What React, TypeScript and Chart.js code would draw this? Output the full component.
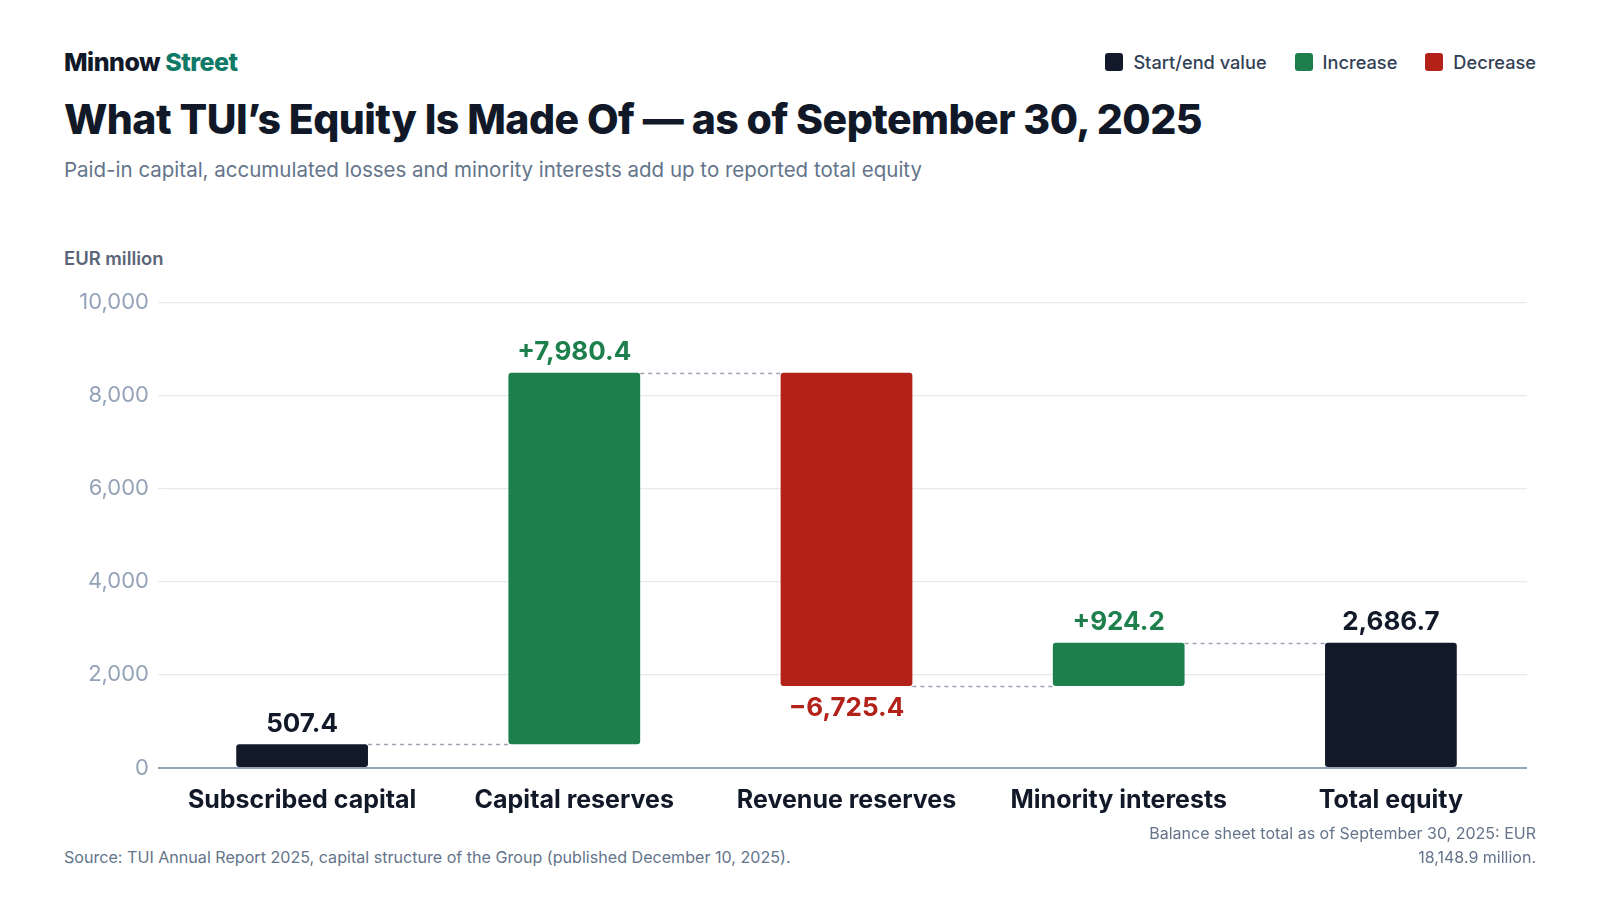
import { Chart, registerables } from "chart.js";
import { useEffect, useRef } from "react";

Chart.register(...registerables);

// data
const categories = ["Subscribed capital", "Capital reserves", "Revenue reserves", "Minority interests", "Total equity"];
const changes = [507.4, 7980.4, -6725.4, 924.2, 2686.7];
const kinds = ["total", "increase", "decrease", "increase", "total"];
const valueLabels = ["507.4", "+7,980.4", "\u22126,725.4", "+924.2", "2,686.7"];
const yTicks = [0, 2000, 4000, 6000, 8000, 10000];

const DARK = "#121a2a";
const GREEN = "#1c7f4c";
const RED = "#b22219";
const AXIS = "#94a3b8";
const FONT = "Inter, 'Noto Sans', sans-serif";

const colorFor = (k: string) => (k === "increase" ? GREEN : k === "decrease" ? RED : DARK);

// floating ranges from running total
const buildRanges = () => {
  let running = 0;
  return changes.map((v, i) => {
    if (kinds[i] === "total") {
      running = v;
      return [0, v];
    }
    const start = running;
    running += v;
    return [start, running];
  });
};

const waterfallPlugin = {
  id: "waterfallExtras",
  afterDatasetsDraw(chart: any) {
    const { ctx } = chart;
    const meta = chart.getDatasetMeta(0);
    const yScale = chart.scales.y;
    const ranges = chart.data.datasets[0].data as number[][];
    ctx.save();
    // connectors
    ctx.strokeStyle = "#9ca3b4";
    ctx.lineWidth = 1.5;
    ctx.setLineDash([4, 4]);
    for (let i = 0; i < ranges.length - 1; i++) {
      const bar = meta.data[i];
      const next = meta.data[i + 1];
      const y = Math.round(yScale.getPixelForValue(ranges[i][1])) + 0.5;
      ctx.beginPath();
      ctx.moveTo(bar.x + bar.width / 2, y);
      ctx.lineTo(next.x - next.width / 2, y);
      ctx.stroke();
    }
    ctx.setLineDash([]);
    // value labels
    ctx.font = `700 26px ${FONT}`;
    ctx.textAlign = "center";
    meta.data.forEach((bar: any, i: number) => {
      const [a, b] = ranges[i];
      ctx.fillStyle = colorFor(kinds[i]);
      if (kinds[i] === "decrease") {
        ctx.textBaseline = "top";
        ctx.fillText(valueLabels[i], bar.x, yScale.getPixelForValue(Math.min(a, b)) + 9);
      } else {
        ctx.textBaseline = "bottom";
        ctx.fillText(valueLabels[i], bar.x, yScale.getPixelForValue(Math.max(a, b)) - 7.5);
      }
    });
    ctx.restore();
  },
};

const WaterfallChart = () => {
  const canvasRef = useRef<HTMLCanvasElement>(null);

  useEffect(() => {
    if (!canvasRef.current) return;
    const chart = new Chart(canvasRef.current, {
      type: "bar",
      data: {
        labels: categories,
        datasets: [
          {
            data: buildRanges() as any,
            backgroundColor: kinds.map(colorFor),
            borderRadius: 3,
            borderSkipped: false,
            barPercentage: 0.484,
            categoryPercentage: 1,
          },
        ],
      },
      options: {
        animation: false,
        responsive: true,
        maintainAspectRatio: false,
        layout: { padding: 0 },
        plugins: { legend: { display: false }, tooltip: { enabled: false } },
        scales: {
          x: {
            grid: { display: false },
            border: { color: AXIS, width: 2 },
            ticks: {
              color: "#111827",
              font: { family: FONT, size: 25, weight: 700 },
              padding: 9,
              maxRotation: 0,
            },
            afterFit: (s: any) => {
              s.height = 60;
            },
          },
          y: {
            min: 0,
            max: 10000,
            afterBuildTicks: (s: any) => {
              s.ticks = yTicks.map((v) => ({ value: v }));
            },
            grid: {
              color: (c: any) => (c.tick && c.tick.value === 0 ? AXIS : "#e8eaee"),
              lineWidth: (c: any) => (c.tick && c.tick.value === 0 ? 2 : 1.2),
              drawTicks: true,
              tickLength: 8,
            },
            border: { display: false },
            ticks: {
              color: AXIS,
              font: { family: FONT, size: 22 },
              padding: 9,
              callback: (v: any) => Number(v).toLocaleString("en-US"),
            },
            afterFit: (s: any) => {
              s.width = 102;
            },
          },
        },
      },
      plugins: [waterfallPlugin],
    });
    return () => chart.destroy();
  }, []);

  return (
    <div style={{ position: "absolute", left: 64, top: 280, width: 1463, height: 548 }}>
      <canvas ref={canvasRef}></canvas>
    </div>
  );
};

const legendItems = [
  { label: "Start/end value", color: DARK },
  { label: "Increase", color: GREEN },
  { label: "Decrease", color: RED },
];

export default function App() {
  useEffect(() => {
    document.body.style.margin = "0";
  }, []);
  return (
    <div
      style={{
        position: "relative",
        width: 1600,
        height: 900,
        background: "#ffffff",
        fontFamily: FONT,
        overflow: "hidden",
      }}
    >
      <div style={{ position: "absolute", left: 64, top: 47, fontSize: 25, fontWeight: 800, color: "#111827", letterSpacing: -0.5 }}>
        Minnow <span style={{ color: "#0f7a68" }}>Street</span>
      </div>
      <div style={{ position: "absolute", right: 64, top: 51, display: "flex", gap: 28, alignItems: "center" }}>
        {legendItems.map((it) => (
          <div key={it.label} style={{ display: "flex", alignItems: "center", gap: 10 }}>
            <span style={{ width: 18, height: 18, borderRadius: 3, background: it.color, display: "inline-block" }} />
            <span style={{ fontSize: 18.2, fontWeight: 500, color: "#334155" }}>{it.label}</span>
          </div>
        ))}
      </div>
      <div style={{ position: "absolute", left: 64, top: 94, fontSize: 41, fontWeight: 800, color: "#111827", letterSpacing: -0.55, whiteSpace: "nowrap" }}>
        What TUI’s Equity Is Made Of — as of September 30, 2025
      </div>
      <div style={{ position: "absolute", left: 64, top: 157, fontSize: 20.5, color: "#64748b" }}>
        Paid-in capital, accumulated losses and minority interests add up to reported total equity
      </div>
      <div style={{ position: "absolute", left: 64, top: 247, fontSize: 18.4, fontWeight: 600, color: "#5b6579" }}>
        EUR million
      </div>
      <WaterfallChart />
      <div style={{ position: "absolute", left: 64, top: 847, fontSize: 16.1, color: "#64748b" }}>
        Source: TUI Annual Report 2025, capital structure of the Group (published December 10, 2025).
      </div>
      <div
        style={{
          position: "absolute",
          right: 64,
          top: 821,
          width: 400,
          textAlign: "right",
          fontSize: 16,
          lineHeight: "24px",
          color: "#64748b",
        }}
      >
        Balance sheet total as of September 30, 2025: EUR 18,148.9 million.
      </div>
    </div>
  );
}
